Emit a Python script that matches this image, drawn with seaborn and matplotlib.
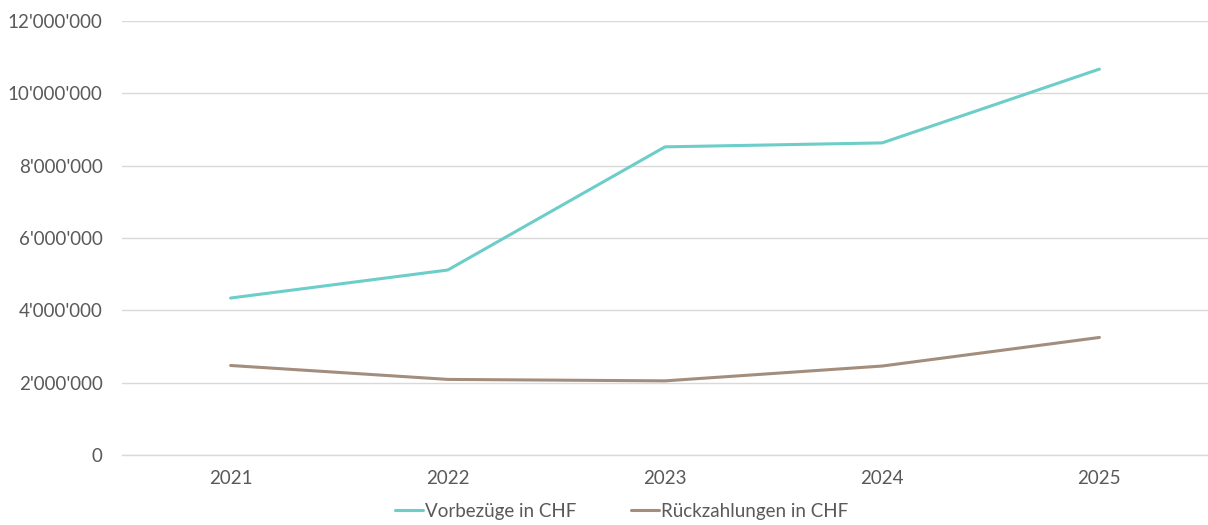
import matplotlib
matplotlib.use("Agg")
import matplotlib.pyplot as plt
import seaborn as sns
import pandas as pd
from matplotlib.ticker import FuncFormatter

years = ["2021", "2022", "2023", "2024", "2025"]
vorbezuege = [4340000, 5115000, 8520000, 8630000, 10670000]
rueckzahlungen = [2475000, 2090000, 2050000, 2460000, 3250000]
series_names = ["Vorbezüge in CHF", "Rückzahlungen in CHF"]
colors = ["#6CCDC9", "#A38D7D"]

df = pd.DataFrame({
    "Jahr": years * 2,
    "Wert": vorbezuege + rueckzahlungen,
    "Serie": [series_names[0]] * len(years) + [series_names[1]] * len(years),
})

sns.set_theme(style="white")
plt.rcParams["font.family"] = ["Lato", "DejaVu Sans"]

fig = plt.figure(figsize=(12.08, 5.25), dpi=100)
ax = fig.add_axes([122 / 1208, 1 - 455 / 525, (1208 - 122) / 1208, (455 - 21) / 525])

sns.lineplot(data=df, x="Jahr", y="Wert", hue="Serie", palette=colors,
             linewidth=2.2, ax=ax, legend=True)

ax.set_xlim(-0.5, 4.5)
ax.set_ylim(0, 12000000)
ax.set_yticks(range(0, 12000001, 2000000))
ax.yaxis.set_major_formatter(FuncFormatter(lambda v, p: f"{int(v):,}".replace(",", "'")))
ax.grid(axis="y", color="#D9D9D9", linewidth=1)
ax.set_axisbelow(True)
for s in ["top", "right", "left"]:
    ax.spines[s].set_visible(False)
ax.spines["bottom"].set_color("#D9D9D9")
ax.spines["bottom"].set_linewidth(1)
ax.tick_params(axis="both", colors="#595959", labelsize=13.5, length=0)
ax.tick_params(axis="y", pad=14)
ax.tick_params(axis="x", pad=11)
ax.set_xlabel("")
ax.set_ylabel("")

ax.legend(loc="center", bbox_to_anchor=(0.46, -0.13), ncol=2, frameon=False,
          fontsize=13.5, labelcolor="#595959", handlelength=1.5, handletextpad=0.1,
          columnspacing=2.9)

fig.savefig("out.png", dpi=100)
